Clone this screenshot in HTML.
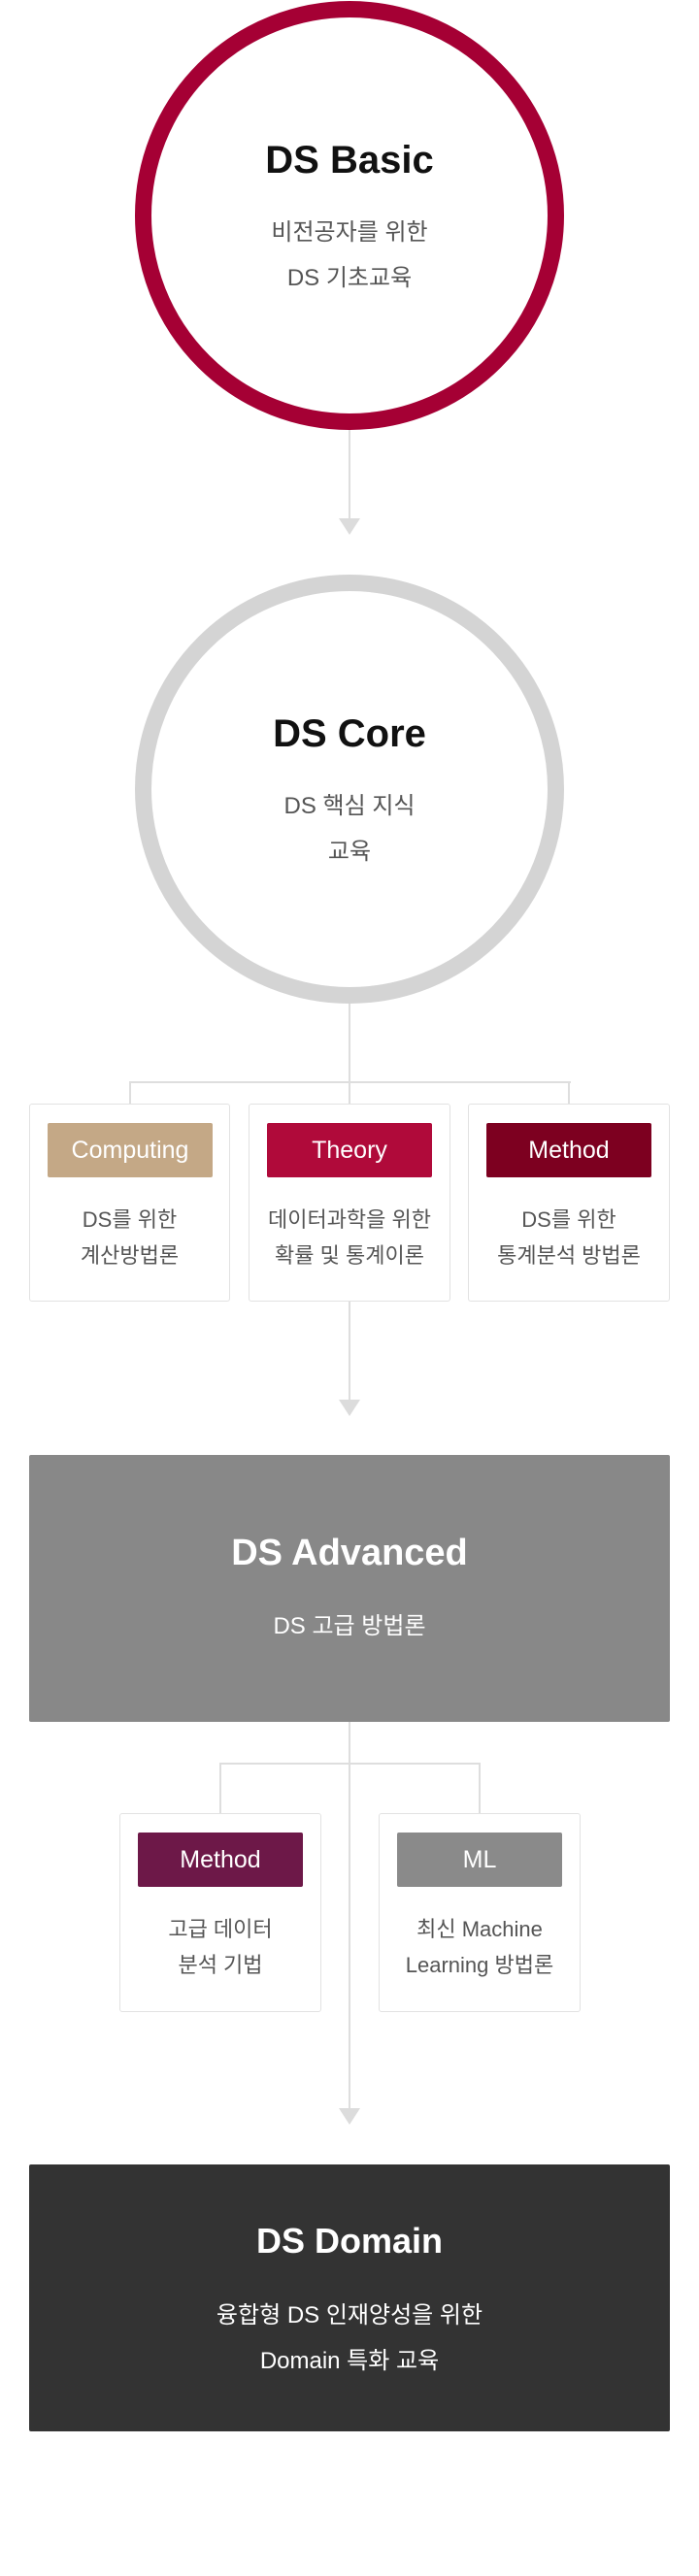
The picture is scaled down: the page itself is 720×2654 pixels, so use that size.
<!DOCTYPE html>
<html><head><meta charset="utf-8"><style>
*{margin:0;padding:0;box-sizing:border-box}
body{width:720px;height:2654px;background:#fff;position:relative;overflow:hidden;font-family:"Liberation Sans","Noto Sans CJK KR",sans-serif}
.a{position:absolute}
.c{text-align:center}
.ln{position:absolute;background:#dedede}
.tri{position:absolute;width:0;height:0;border-left:11px solid transparent;border-right:11px solid transparent;border-top:17px solid #dcdcdc}
.box{position:absolute;border:1px solid #e2e2e2;border-radius:3px;background:#fff}
.lab{position:absolute;left:18px;top:19px;width:170px;height:56px;border-radius:2px;color:#fff;font-size:25px;line-height:56px;text-align:center}
.desc{position:absolute;left:0;right:0;top:100px;text-align:center;color:#555;font-size:22px;line-height:37px}
</style></head><body>
<!-- lines -->
<div class="ln" style="left:359px;top:440px;width:2px;height:100px"></div>
<div class="tri" style="left:349px;top:534px"></div>
<div class="ln" style="left:359px;top:1030px;width:2px;height:415px"></div>
<div class="ln" style="left:133px;top:1114px;width:455px;height:2px"></div>
<div class="ln" style="left:133px;top:1114px;width:2px;height:24px"></div>
<div class="ln" style="left:585px;top:1114px;width:2px;height:24px"></div>
<div class="tri" style="left:349px;top:1442px"></div>
<div class="ln" style="left:359px;top:1773px;width:2px;height:405px"></div>
<div class="ln" style="left:226px;top:1816px;width:269px;height:2px"></div>
<div class="ln" style="left:226px;top:1816px;width:2px;height:53px"></div>
<div class="ln" style="left:493px;top:1816px;width:2px;height:53px"></div>
<div class="tri" style="left:349px;top:2172px"></div>

<!-- circles -->
<div class="a" style="left:139px;top:1px;width:442px;height:442px;border:17px solid #a50034;border-radius:50%;background:#fff"></div>
<div class="a c" style="left:0;width:720px;top:140px;font-size:40px;font-weight:bold;color:#111;line-height:50px">DS Basic</div>
<div class="a c" style="left:0;width:720px;top:216px;font-size:24px;color:#555;line-height:47px">비전공자를 위한<br>DS 기초교육</div>

<div class="a" style="left:139px;top:592px;width:442px;height:442px;border:17px solid #d4d4d4;border-radius:50%;background:#fff"></div>
<div class="a c" style="left:0;width:720px;top:731px;font-size:40px;font-weight:bold;color:#111;line-height:50px">DS Core</div>
<div class="a c" style="left:0;width:720px;top:807px;font-size:24px;color:#555;line-height:47px">DS 핵심 지식<br>교육</div>

<!-- core boxes -->
<div class="box" style="left:30px;top:1137px;width:207px;height:204px"><div class="lab" style="background:#c4a886">Computing</div><div class="desc">DS를 위한<br>계산방법론</div></div>
<div class="box" style="left:256px;top:1137px;width:208px;height:204px"><div class="lab" style="background:#b00a3a">Theory</div><div class="desc">데이터과학을 위한<br>확률 및 통계이론</div></div>
<div class="box" style="left:482px;top:1137px;width:208px;height:204px"><div class="lab" style="background:#7d0020">Method</div><div class="desc">DS를 위한<br>통계분석 방법론</div></div>

<!-- advanced -->
<div class="a" style="left:30px;top:1499px;width:660px;height:275px;background:#888;border-radius:2px"></div>
<div class="a c" style="left:0;width:720px;top:1575px;font-size:38px;font-weight:bold;color:#fff;line-height:50px">DS Advanced</div>
<div class="a c" style="left:0;width:720px;top:1659px;font-size:24px;color:#fff;line-height:34px">DS 고급 방법론</div>

<div class="box" style="left:123px;top:1868px;width:208px;height:205px"><div class="lab" style="background:#6d1848">Method</div><div class="desc">고급 데이터<br>분석 기법</div></div>
<div class="box" style="left:390px;top:1868px;width:208px;height:205px"><div class="lab" style="background:#8a8a8a">ML</div><div class="desc">최신 Machine<br>Learning 방법론</div></div>

<!-- domain -->
<div class="a" style="left:30px;top:2230px;width:660px;height:275px;background:#333;border-radius:2px"></div>
<div class="a c" style="left:0;width:720px;top:2284px;font-size:36px;font-weight:bold;color:#fff;line-height:50px">DS Domain</div>
<div class="a c" style="left:0;width:720px;top:2362px;font-size:24px;color:#fff;line-height:47px">융합형 DS 인재양성을 위한<br>Domain 특화 교육</div>
</body></html>
